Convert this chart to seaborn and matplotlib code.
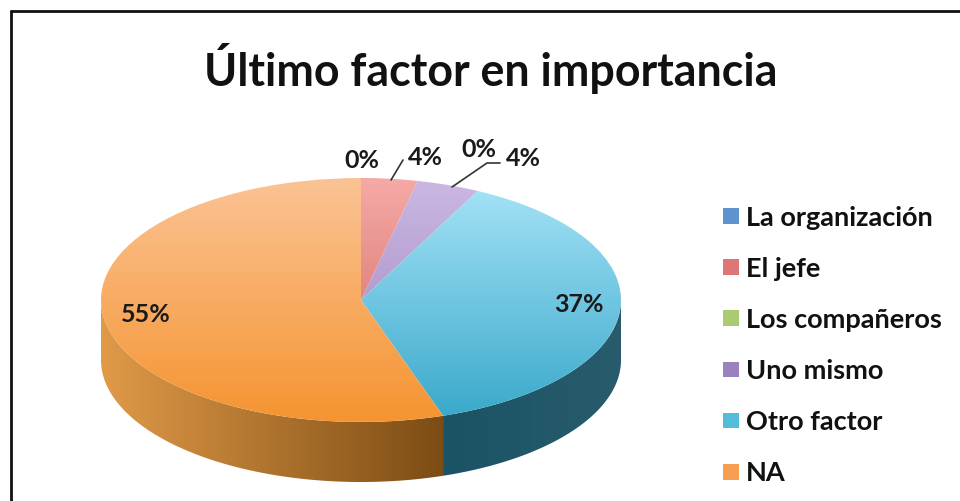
import numpy as np
import matplotlib
matplotlib.use("Agg")
import matplotlib.pyplot as plt
import seaborn as sns
from matplotlib.colors import LinearSegmentedColormap
from matplotlib.lines import Line2D
from matplotlib.patches import Patch, Polygon

# data
categories = ["La organización", "El jefe", "Los compañeros", "Uno mismo", "Otro factor", "NA"]
values = [0, 3.5, 0, 3.9, 37.49, 55.11]
pct_labels = ["0%", "4%", "0%", "4%", "37%", "55%"]
legend_colors = ["#5F93CF", "#DD7674", "#ABCB72", "#9A82BE", "#53BCD8", "#F79C50"]
top_light = ["#8FB5E5", "#F5AAA6", "#CDE39C", "#CBB8E2", "#A8E4F8", "#FBC395"]
top_dark = ["#4A7EBB", "#D0605C", "#8FB04E", "#9A82BE", "#38A8CA", "#F59430"]
side_left = ["#3A6391", "#A04A48", "#76923C", "#7C6798", "#1A5365", "#E09A48"]
side_right = ["#3A6391", "#A04A48", "#76923C", "#7C6798", "#285C6C", "#7C4C14"]

W, H = 960, 501
CX, CY, RX, RY, DEPTH = 361, 300, 260, 122, 60


def fx(x):
    return x / W


def fy(y):
    return 1 - y / H


sns.set_theme(style="white")
plt.rcParams["font.family"] = ["Lato", "DejaVu Sans"]
palette = sns.color_palette(legend_colors)

fig = plt.figure(figsize=(W / 100, H / 100), dpi=100)
# axes span the ellipse plus the depth of the side wall, radius 1 = RX / RY
ax = fig.add_axes([fx(CX - RX), fy(CY + RY + DEPTH), 2 * RX / W, (2 * RY + DEPTH) / H])

wedges, _ = ax.pie(values, startangle=90, counterclock=False, radius=1, center=(0, 0))
ax.set_aspect("auto")
depth = DEPTH / RY

# vertical gradient on the top face of each slice
ramp = np.linspace(0, 1, 256).reshape(-1, 1)
for w, c1, c2 in zip(wedges, top_light, top_dark):
    w.set_facecolor("none")
    w.set_edgecolor("none")
    cmap = LinearSegmentedColormap.from_list("s", [c1, c2])
    im = ax.imshow(ramp, cmap=cmap, extent=(-1, 1, -1, 1), origin="upper", aspect="auto", zorder=3)
    im.set_clip_path(w)

# side wall: front half only (clockwise angle from top between 90 and 270)
edges = np.cumsum([0] + values) / sum(values) * 360
for i in range(len(values)):
    a0, a1 = max(edges[i], 90), min(edges[i + 1], 270)
    if a1 <= a0:
        continue
    angles = np.radians(np.linspace(a0, a1, 200))
    x, y = np.sin(angles), np.cos(angles)
    wall = Polygon(np.r_[np.c_[x, y], np.c_[x[::-1], y[::-1] - depth]], closed=True,
                   facecolor="none", edgecolor="none")
    ax.add_patch(wall)
    # shade runs left to right along the wall
    cmap = LinearSegmentedColormap.from_list("w", [side_left[i], side_right[i]])
    im = ax.imshow(np.linspace(0, 1, 256).reshape(1, -1), cmap=cmap, aspect="auto", zorder=2,
                   extent=(x.min(), x.max(), -1 - depth, 1))
    im.set_clip_path(wall)
ax.set_xlim(-1, 1)
ax.set_ylim(-1 - depth, 1)
ax.set_axis_off()

# title
fig.text(fx(491), fy(69), "Último factor en importancia", ha="center", va="center",
         fontsize=32.2, fontweight="bold", color="#111111")

# percent labels
label_pos = [(362, 160), (425, 157), (479, 150), (523, 159), (579, 305), (146, 314)]
for txt, (lx, ly) in zip(pct_labels, label_pos):
    fig.text(fx(lx), fy(ly), txt, ha="center", va="center", fontsize=18,
             fontweight="bold", color="#1a1a1a")

# leader lines
fig.add_artist(Line2D([fx(391), fx(403)], [fy(180), fy(160)], color="#333333", lw=1.2))
fig.add_artist(Line2D([fx(452), fx(487), fx(500)], [fy(187), fy(163), fy(163)], color="#333333", lw=1.2))

# legend
handles = [Patch(facecolor=c, edgecolor="none", label=n) for c, n in zip(palette, categories)]
fig.legend(handles=handles, loc="center left", bbox_to_anchor=(fx(723), fy(345.5)), frameon=False,
           labelspacing=1.0, handlelength=0.6, handleheight=0.52, handletextpad=0.26,
           borderaxespad=0, borderpad=0, labelcolor="#111111",
           prop={"family": ["Lato", "DejaVu Sans"], "weight": "bold", "size": 19.5})

# outer frame, runs off the right and bottom of the image
fig.add_artist(Line2D([fx(10.5), fx(10.5)], [0, fy(10.5)], color="#111111", lw=2))
fig.add_artist(Line2D([fx(10.5), 1], [fy(10.5), fy(10.5)], color="#111111", lw=2))

fig.savefig("out.png", dpi=100, facecolor="white")
